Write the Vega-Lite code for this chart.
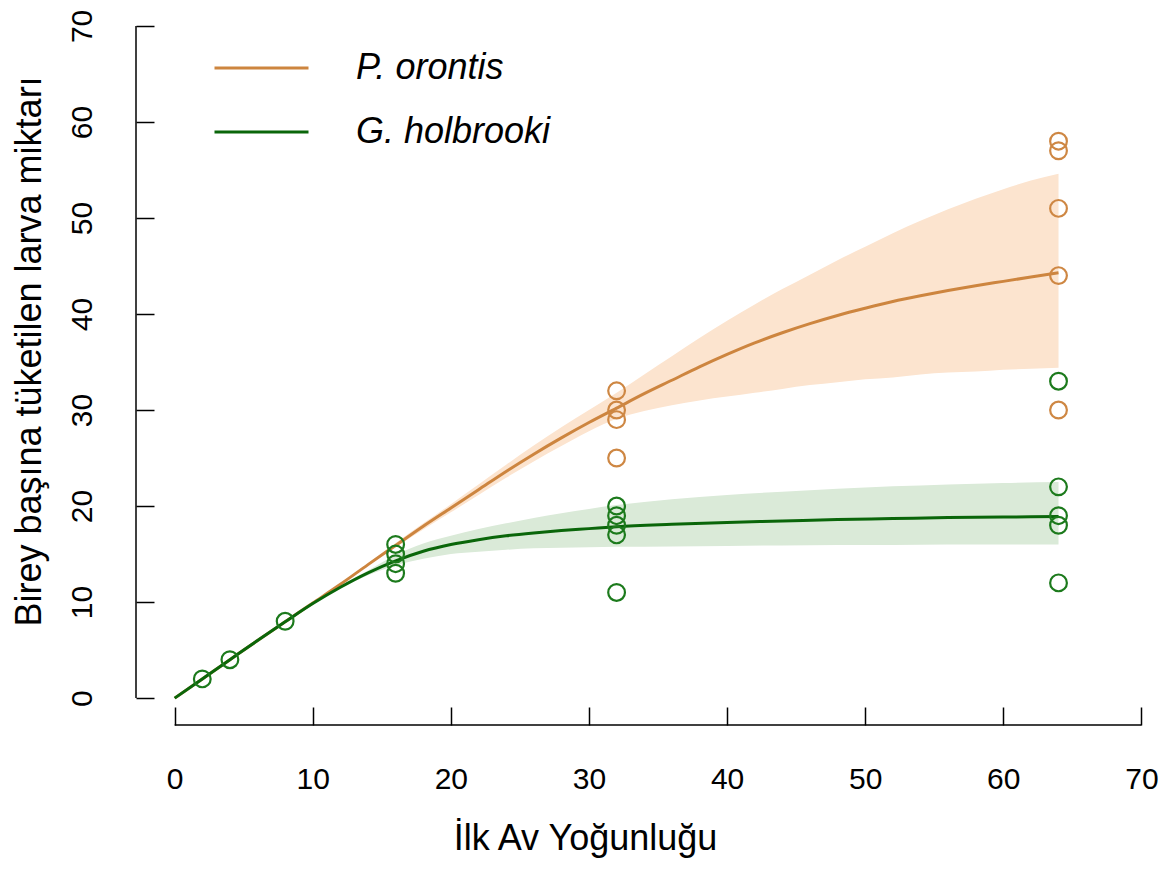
{
  "$schema": "https://vega.github.io/schema/vega-lite/v6.json",
  "width": 1033,
  "height": 725,
  "padding": {"left": 136, "top": 0, "right": 1, "bottom": 144},
  "autosize": {"type": "none"},
  "background": "white",
  "config": {
    "view": {"stroke": null},
    "font": "Liberation Sans",
    "axis": {
      "domain": false,
      "grid": false,
      "tickColor": "black",
      "tickWidth": 1.5,
      "tickSize": -18,
      "labelColor": "black",
      "labelFontSize": 30,
      "labelFont": "Liberation Sans",
      "titleFont": "Liberation Sans",
      "titleFontSize": 36,
      "titleFontWeight": "normal",
      "titleColor": "black"
    }
  },
  "datasets": {
    "fit": [
      {"species": "P. orontis", "density": 0, "fit": 0, "lo": 0, "hi": 0},
      {"species": "P. orontis", "density": 2, "fit": 2, "lo": 2, "hi": 2},
      {"species": "P. orontis", "density": 4, "fit": 4, "lo": 4, "hi": 4},
      {"species": "P. orontis", "density": 6, "fit": 6, "lo": 6, "hi": 6},
      {"species": "P. orontis", "density": 8, "fit": 7.95, "lo": 7.95, "hi": 7.95},
      {"species": "P. orontis", "density": 10, "fit": 9.9, "lo": 9.9, "hi": 9.9},
      {"species": "P. orontis", "density": 12, "fit": 11.85, "lo": 11.8, "hi": 11.9},
      {"species": "P. orontis", "density": 14, "fit": 13.9, "lo": 13.8, "hi": 14.05},
      {"species": "P. orontis", "density": 16, "fit": 15.9, "lo": 15.7, "hi": 16.15},
      {"species": "P. orontis", "density": 18, "fit": 17.9, "lo": 17.55, "hi": 18.2},
      {"species": "P. orontis", "density": 20, "fit": 19.8, "lo": 19.35, "hi": 20.2},
      {"species": "P. orontis", "density": 22, "fit": 21.7, "lo": 21.15, "hi": 22.25},
      {"species": "P. orontis", "density": 24, "fit": 23.6, "lo": 22.95, "hi": 24.3},
      {"species": "P. orontis", "density": 26, "fit": 25.4, "lo": 24.65, "hi": 26.3},
      {"species": "P. orontis", "density": 28, "fit": 27.1, "lo": 26.25, "hi": 28.2},
      {"species": "P. orontis", "density": 30, "fit": 28.7, "lo": 27.8, "hi": 30.0},
      {"species": "P. orontis", "density": 32, "fit": 30.2, "lo": 29.1, "hi": 31.8},
      {"species": "P. orontis", "density": 34, "fit": 31.7, "lo": 29.9, "hi": 33.7},
      {"species": "P. orontis", "density": 36, "fit": 33.1, "lo": 30.5, "hi": 35.6},
      {"species": "P. orontis", "density": 38, "fit": 34.5, "lo": 31.0, "hi": 37.5},
      {"species": "P. orontis", "density": 40, "fit": 35.8, "lo": 31.4, "hi": 39.3},
      {"species": "P. orontis", "density": 42, "fit": 37.0, "lo": 31.8, "hi": 41.0},
      {"species": "P. orontis", "density": 44, "fit": 38.05, "lo": 32.2, "hi": 42.6},
      {"species": "P. orontis", "density": 46, "fit": 39.0, "lo": 32.6, "hi": 44.1},
      {"species": "P. orontis", "density": 48, "fit": 39.85, "lo": 32.9, "hi": 45.6},
      {"species": "P. orontis", "density": 50, "fit": 40.6, "lo": 33.2, "hi": 47.0},
      {"species": "P. orontis", "density": 52, "fit": 41.3, "lo": 33.4, "hi": 48.4},
      {"species": "P. orontis", "density": 54, "fit": 41.9, "lo": 33.7, "hi": 49.7},
      {"species": "P. orontis", "density": 56, "fit": 42.45, "lo": 33.9, "hi": 50.9},
      {"species": "P. orontis", "density": 58, "fit": 42.95, "lo": 34.0, "hi": 52.0},
      {"species": "P. orontis", "density": 60, "fit": 43.4, "lo": 34.2, "hi": 53.0},
      {"species": "P. orontis", "density": 62, "fit": 43.85, "lo": 34.3, "hi": 53.9},
      {"species": "P. orontis", "density": 64, "fit": 44.3, "lo": 34.4, "hi": 54.6},
      {"species": "G. holbrooki", "density": 0, "fit": 0, "lo": 0, "hi": 0},
      {"species": "G. holbrooki", "density": 2, "fit": 2, "lo": 2, "hi": 2},
      {"species": "G. holbrooki", "density": 4, "fit": 4, "lo": 4, "hi": 4},
      {"species": "G. holbrooki", "density": 6, "fit": 6, "lo": 6, "hi": 6},
      {"species": "G. holbrooki", "density": 8, "fit": 7.95, "lo": 7.95, "hi": 7.95},
      {"species": "G. holbrooki", "density": 10, "fit": 9.85, "lo": 9.85, "hi": 9.85},
      {"species": "G. holbrooki", "density": 12, "fit": 11.55, "lo": 11.45, "hi": 11.65},
      {"species": "G. holbrooki", "density": 14, "fit": 13.05, "lo": 12.8, "hi": 13.3},
      {"species": "G. holbrooki", "density": 16, "fit": 14.3, "lo": 13.8, "hi": 14.9},
      {"species": "G. holbrooki", "density": 18, "fit": 15.3, "lo": 14.5, "hi": 16.1},
      {"species": "G. holbrooki", "density": 20, "fit": 16.0, "lo": 15.0, "hi": 16.9},
      {"species": "G. holbrooki", "density": 22, "fit": 16.5, "lo": 15.25, "hi": 17.6},
      {"species": "G. holbrooki", "density": 24, "fit": 16.9, "lo": 15.45, "hi": 18.2},
      {"species": "G. holbrooki", "density": 26, "fit": 17.2, "lo": 15.6, "hi": 18.75},
      {"species": "G. holbrooki", "density": 28, "fit": 17.45, "lo": 15.65, "hi": 19.25},
      {"species": "G. holbrooki", "density": 30, "fit": 17.65, "lo": 15.7, "hi": 19.7},
      {"species": "G. holbrooki", "density": 32, "fit": 17.85, "lo": 15.75, "hi": 20.1},
      {"species": "G. holbrooki", "density": 36, "fit": 18.1, "lo": 15.8, "hi": 20.7},
      {"species": "G. holbrooki", "density": 40, "fit": 18.3, "lo": 15.85, "hi": 21.15},
      {"species": "G. holbrooki", "density": 44, "fit": 18.45, "lo": 15.9, "hi": 21.5},
      {"species": "G. holbrooki", "density": 48, "fit": 18.6, "lo": 15.95, "hi": 21.8},
      {"species": "G. holbrooki", "density": 52, "fit": 18.7, "lo": 15.95, "hi": 22.05},
      {"species": "G. holbrooki", "density": 56, "fit": 18.8, "lo": 16.0, "hi": 22.25},
      {"species": "G. holbrooki", "density": 60, "fit": 18.85, "lo": 16.0, "hi": 22.4},
      {"species": "G. holbrooki", "density": 64, "fit": 18.9, "lo": 16.0, "hi": 22.5}
    ],
    "obs": [
      {"species": "P. orontis", "density": 32, "eaten": 32},
      {"species": "P. orontis", "density": 32, "eaten": 30},
      {"species": "P. orontis", "density": 32, "eaten": 29},
      {"species": "P. orontis", "density": 32, "eaten": 25},
      {"species": "P. orontis", "density": 64, "eaten": 58},
      {"species": "P. orontis", "density": 64, "eaten": 57},
      {"species": "P. orontis", "density": 64, "eaten": 51},
      {"species": "P. orontis", "density": 64, "eaten": 44},
      {"species": "P. orontis", "density": 64, "eaten": 30},
      {"species": "G. holbrooki", "density": 2, "eaten": 2},
      {"species": "G. holbrooki", "density": 4, "eaten": 4},
      {"species": "G. holbrooki", "density": 8, "eaten": 8},
      {"species": "G. holbrooki", "density": 16, "eaten": 16},
      {"species": "G. holbrooki", "density": 16, "eaten": 15},
      {"species": "G. holbrooki", "density": 16, "eaten": 14},
      {"species": "G. holbrooki", "density": 16, "eaten": 13},
      {"species": "G. holbrooki", "density": 32, "eaten": 20},
      {"species": "G. holbrooki", "density": 32, "eaten": 19},
      {"species": "G. holbrooki", "density": 32, "eaten": 18},
      {"species": "G. holbrooki", "density": 32, "eaten": 17},
      {"species": "G. holbrooki", "density": 32, "eaten": 11},
      {"species": "G. holbrooki", "density": 64, "eaten": 33},
      {"species": "G. holbrooki", "density": 64, "eaten": 22},
      {"species": "G. holbrooki", "density": 64, "eaten": 19},
      {"species": "G. holbrooki", "density": 64, "eaten": 18},
      {"species": "G. holbrooki", "density": 64, "eaten": 12}
    ]
  },
  "layer": [
    {
      "data": {"name": "fit"},
      "mark": {"type": "area", "interpolate": "monotone"},
      "encoding": {
        "x": {
          "field": "density",
          "type": "quantitative",
          "scale": {"domain": [-2.8, 72], "nice": false, "zero": false},
          "axis": {
            "values": [0, 10, 20, 30, 40, 50, 60, 70],
            "title": "İlk Av Yoğunluğu",
            "labelPadding": 57,
            "labelBaseline": "top",
            "titleX": 449,
            "titleY": 124,
            "titleAlign": "center",
            "titleBaseline": "alphabetic"
          }
        },
        "y": {
          "field": "lo",
          "type": "quantitative",
          "scale": {"domain": [-2.8, 72.7], "nice": false, "zero": false},
          "axis": {
            "values": [0, 10, 20, 30, 40, 50, 60, 70],
            "title": "Birey başına tüketilen larva miktarı",
            "labelAngle": -90,
            "labelAlign": "center",
            "labelBaseline": "middle",
            "labelPadding": 72,
            "titleAngle": -90,
            "titleX": -107,
            "titleY": 351,
            "titleAlign": "center",
            "titleBaseline": "middle"
          }
        },
        "y2": {"field": "hi"},
        "fill": {
          "field": "species",
          "type": "nominal",
          "scale": {"domain": ["G. holbrooki", "P. orontis"], "range": ["#DAEAD8", "#FCE4CF"]},
          "legend": null
        }
      }
    },
    {
      "data": {"name": "fit"},
      "mark": {"type": "line", "strokeWidth": 3, "interpolate": "monotone"},
      "encoding": {
        "x": {"field": "density", "type": "quantitative"},
        "y": {"field": "fit", "type": "quantitative"},
        "color": {
          "field": "species",
          "type": "nominal",
          "scale": {"domain": ["P. orontis", "G. holbrooki"], "range": ["#CD853F", "#0A660A"]},
          "legend": {
            "orient": "none",
            "legendX": 77,
            "legendY": 50,
            "title": null,
            "symbolType": "stroke",
            "symbolSize": 8836,
            "symbolStrokeWidth": 3,
            "labelFont": "Liberation Sans",
            "labelFontSize": 36,
            "labelFontStyle": "italic",
            "labelColor": "black",
            "labelOffset": 46,
            "labelLimit": 0,
            "clipHeight": 36,
            "rowPadding": 28,
            "padding": 0
          }
        }
      }
    },
    {
      "data": {"name": "obs"},
      "mark": {"type": "point", "shape": "circle", "filled": false, "size": 280, "strokeWidth": 2.2, "opacity": 1},
      "encoding": {
        "x": {"field": "density", "type": "quantitative"},
        "y": {"field": "eaten", "type": "quantitative"},
        "stroke": {
          "field": "species",
          "type": "nominal",
          "scale": {"domain": ["G. holbrooki", "P. orontis"], "range": ["#1C7A1C", "#CE8743"]},
          "legend": null
        }
      }
    },
    {
      "data": {"values": [{}]},
      "mark": {"type": "rule", "color": "black", "strokeWidth": 1.5},
      "encoding": {"x": {"datum": 0}, "x2": {"datum": 70}, "y": {"datum": -2.8}}
    },
    {
      "data": {"values": [{}]},
      "mark": {"type": "rule", "color": "black", "strokeWidth": 1.5},
      "encoding": {"x": {"datum": -2.8}, "y": {"datum": 0}, "y2": {"datum": 70}}
    }
  ]
}
